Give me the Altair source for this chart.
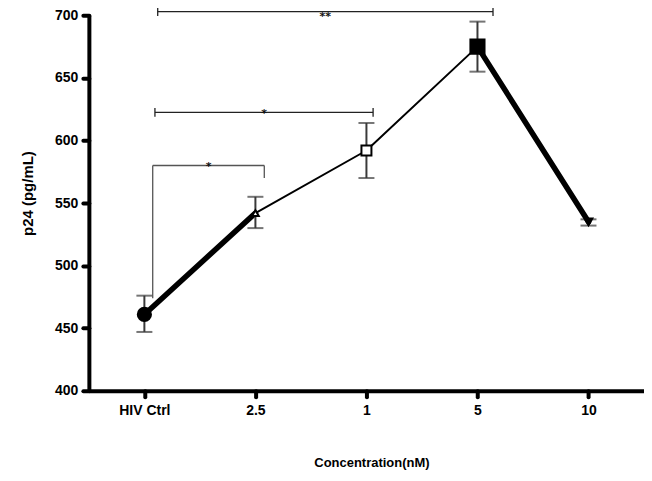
import altair as alt
import pandas as pd

categories = ["HIV Ctrl", "2.5", "1", "5", "10"]
means = [461, 542, 592, 675, 535]
err_low = [447, 530, 570, 655, 532]
err_high = [476, 555, 614, 695, 537]
shapes = ["circle", "triangle-up", "square", "square", "triangle-down"]
fills = ["black", "white", "white", "black", "black"]
sizes = [175, 45, 100, 200, 60]
seg_widths = [5.5, 2, 2, 5.5]

# significance brackets: start x, end x, bar level, end drops, label
br_x1 = [0.075, 0.095, 0.12]
br_x2 = [1.08, 2.06, 3.14]
br_y = [580, 622.5, 703]
br_y_left = [474, 626, 706.5]
br_y_right = [570, 619, 699.5]
br_left_low = [580, 619, 699.5]
br_right_low = [580, 626, 706.5]
br_labels = ["*", "*", "**"]
br_colors = ["#555555", "#222222", "#222222"]

idx = list(range(len(categories)))
pts = pd.DataFrame({"i": idx, "cat": categories, "m": means, "lo": err_low,
                    "hi": err_high, "shape": shapes, "fill": fills, "size": sizes})
segs = pd.DataFrame({"x": idx[:-1], "x2": idx[1:], "y": means[:-1], "y2": means[1:],
                     "w": seg_widths})
br = pd.DataFrame({"x1": br_x1, "x2": br_x2, "y": br_y, "yl": br_y_left, "yr": br_y_right,
                   "yl2": br_left_low, "yr2": br_right_low, "lab": br_labels,
                   "col": br_colors})
br["xm"] = (br["x1"] + br["x2"]) / 2

label_expr = "[" + ",".join("'" + c + "'" for c in categories) + "][datum.value]"

xscale = alt.Scale(domain=[-0.5, 4.5], nice=False, zero=False)
yscale = alt.Scale(domain=[400, 700], nice=False, zero=False)

FONT = "Liberation Sans"

xaxis = alt.Axis(values=idx, labelExpr=label_expr, grid=False, title="Concentration(nM)",
                 domainColor="black", domainWidth=4, tickColor="black", tickWidth=4,
                 tickSize=6, tickCap="round", labelFont=FONT, labelFontSize=14,
                 labelFontWeight="bold", labelColor="black", labelPadding=7,
                 titleFont=FONT, titleFontSize=13, titleFontWeight="bold",
                 titleColor="black", titleX=283, titleY=72, titleBaseline="middle",
                 titleAlign="center")
yaxis = alt.Axis(values=[400, 450, 500, 550, 600, 650, 700], grid=False, title="p24 (pg/mL)",
                 domainColor="black", domainWidth=4, tickColor="black", tickWidth=4,
                 tickSize=6, tickCap="round", labelFont=FONT, labelFontSize=14,
                 labelFontWeight="bold", labelColor="black", labelPadding=5,
                 titleFont=FONT, titleFontSize=15, titleFontWeight="bold",
                 titleColor="black", titleX=-61, titleY=178, titleBaseline="middle",
                 titleAlign="center", titleAngle=270)

lines = alt.Chart(segs).mark_rule(color="black", strokeCap="round").encode(
    x=alt.X("x:Q", scale=xscale, axis=xaxis), x2="x2:Q",
    y=alt.Y("y:Q", scale=yscale, axis=yaxis), y2="y2:Q",
    strokeWidth=alt.StrokeWidth("w:Q", scale=None, legend=None))

ebars = alt.Chart(pts).mark_rule(color="#3a3a3a", strokeWidth=2).encode(
    x=alt.X("i:Q", scale=xscale), y=alt.Y("lo:Q", scale=yscale), y2="hi:Q")
caps_lo = alt.Chart(pts).mark_tick(color="#3a3a3a", orient="horizontal", size=16,
                                   thickness=2).encode(
    x=alt.X("i:Q", scale=xscale), y=alt.Y("lo:Q", scale=yscale))
caps_hi = alt.Chart(pts).mark_tick(color="#3a3a3a", orient="horizontal", size=16,
                                   thickness=2).encode(
    x=alt.X("i:Q", scale=xscale), y=alt.Y("hi:Q", scale=yscale))

points = alt.Chart(pts).mark_point(stroke="black", strokeWidth=2, opacity=1).encode(
    x=alt.X("i:Q", scale=xscale), y=alt.Y("m:Q", scale=yscale),
    shape=alt.Shape("shape:N", scale=None, legend=None),
    fill=alt.Fill("fill:N", scale=None, legend=None),
    size=alt.Size("size:Q", scale=None, legend=None))

br_h = alt.Chart(br).mark_rule(strokeWidth=1.3, clip=False).encode(
    x=alt.X("x1:Q", scale=xscale), x2="x2:Q", y=alt.Y("y:Q", scale=yscale),
    color=alt.Color("col:N", scale=None, legend=None))
br_l = alt.Chart(br).mark_rule(strokeWidth=1.3, clip=False).encode(
    x=alt.X("x1:Q", scale=xscale), y=alt.Y("yl:Q", scale=yscale), y2="yl2:Q",
    color=alt.Color("col:N", scale=None, legend=None))
br_r = alt.Chart(br).mark_rule(strokeWidth=1.3, clip=False).encode(
    x=alt.X("x2:Q", scale=xscale), y=alt.Y("yr:Q", scale=yscale), y2="yr2:Q",
    color=alt.Color("col:N", scale=None, legend=None))
br_t1 = alt.Chart(br).transform_filter("datum.lab == '*'").mark_text(
    font="DejaVu Sans", fontSize=11, fontWeight="bold", baseline="alphabetic", dy=4.5).encode(
    x=alt.X("xm:Q", scale=xscale), y=alt.Y("y:Q", scale=yscale), text="lab:N",
    color=alt.value("#111111"))
br_t2 = alt.Chart(br).transform_filter("datum.lab == '**'").mark_text(
    font="DejaVu Sans", fontSize=11, fontWeight="bold", baseline="alphabetic", dy=8).encode(
    x=alt.X("xm:Q", scale=xscale), y=alt.Y("y:Q", scale=yscale), text="lab:N",
    color=alt.value("#111111"))

chart = alt.layer(lines, ebars, caps_lo, caps_hi, points, br_h, br_l, br_r,
                  br_t1, br_t2).properties(
    width=556, height=376,
    autosize=alt.AutoSizeParams(type="none"),
    padding={"left": 81, "top": 7, "right": 0, "bottom": 82}
).configure(background="white").configure_view(stroke=None)

chart.save("out.html", embed_options={"renderer": "svg", "actions": False})
